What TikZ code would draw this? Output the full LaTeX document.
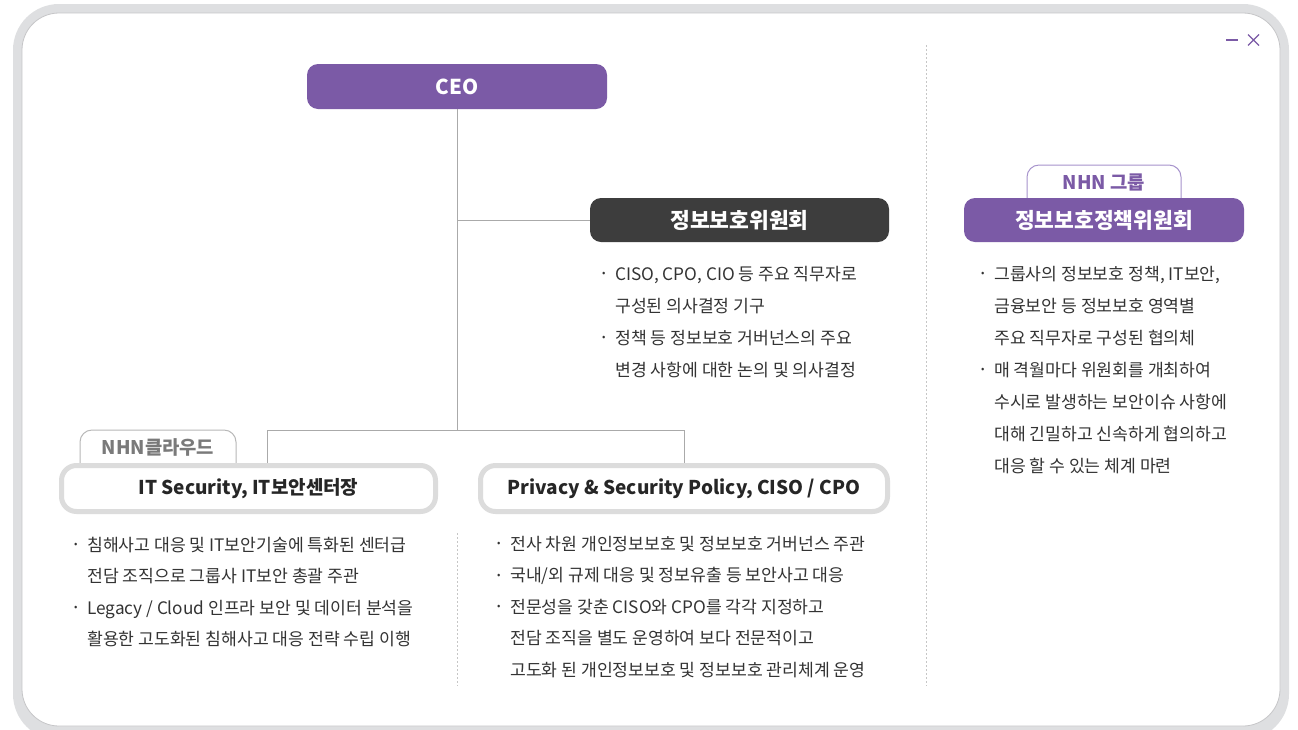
\documentclass[tikz,border=0pt]{standalone}
\usepackage{fontspec}
\setmainfont{Noto Sans CJK KR}
\definecolor{nhnpurple}{HTML}{7B5AA6}
\definecolor{darkbox}{HTML}{3D3D3D}
\definecolor{linegray}{HTML}{AAAAAA}
\definecolor{boxborder}{HTML}{DCDCDC}
\definecolor{framegray}{HTML}{DEDFE1}
\definecolor{frameedge}{HTML}{C6C6C8}
\definecolor{tabgray}{HTML}{B8B8B8}
\definecolor{tabtext}{HTML}{7A7A7A}
\definecolor{tabpurple}{HTML}{A793CC}
\definecolor{bodytext}{HTML}{333333}
\newcommand{\bi}{\makebox[14pt][l]{\hspace*{1pt}\raisebox{3.5pt}{\fontsize{10}{10}\selectfont •}}}
\newcommand{\bc}{\hspace*{14pt}}
\tikzset{
  fillbox/.style={rounded corners=11pt, inner sep=0pt, text=white,
    font=\fontsize{21.5}{24}\selectfont\bfseries},
  outlinebox/.style={draw=boxborder, line width=5pt, fill=white, rounded corners=15pt,
    inner sep=0pt, text=black!85, font=\fontsize{19}{22}\selectfont\bfseries},
  bullets/.style={anchor=base west, align=left, inner sep=0pt, text=bodytext,
    font=\fontsize{17.2}{32}\selectfont},
  tablabel/.style={inner sep=0pt, font=\fontsize{18.8}{20}\selectfont\bfseries},
  conn/.style={draw=linegray, line width=1pt},
  sep/.style={draw=tabgray!80, line width=1pt, dash pattern=on 2pt off 2pt},
}
\begin{document}
\begin{tikzpicture}[x=1pt,y=-1pt]
\useasboundingbox (0,0) rectangle (1298,729);
% frame
\fill[framegray, rounded corners=46pt] (13,4) rectangle (1289,740);
\draw[frameedge, fill=white, line width=0.8pt, rounded corners=37pt] (22,13) rectangle (1280,726);
% window icons
\draw[nhnpurple, line width=1.2pt] (1226,40) -- (1238,40);
\draw[nhnpurple, line width=1.2pt] (1248,34.5) -- (1259,45.5) (1259,34.5) -- (1248,45.5);
% separators
\coordinate (s1a) at (457,533); \coordinate (s1b) at (457,686);
\coordinate (s2a) at (926,45); \coordinate (s2b) at (926,686);
\draw[sep] (s1a) -- (s1b);
\draw[sep] (s2a) -- (s2b);
% nodes
\node[fillbox, fill=nhnpurple, minimum width=300pt, minimum height=45pt, font=\fontsize{20.5}{24}\selectfont\bfseries] (ceo) at (457,86.5) {CEO};
\node[fillbox, fill=darkbox, minimum width=299pt, minimum height=44pt] (com) at (739.5,220) {정보보호위원회};
% tabs
\draw[tabgray, line width=1pt, fill=white, rounded corners=12pt] (80,465) -- (80,430) -- (236,430) -- (236,465);
\node[tablabel, text=tabtext] (cloudtab) at (158,447.5) {NHN클라우드};
\draw[tabpurple, line width=1pt, fill=white, rounded corners=12pt] (1027,200) -- (1027,165) -- (1181,165) -- (1181,200);
\node[tablabel, text=nhnpurple] (grouptab) at (1104,182) {NHN 그룹};
\node[fillbox, fill=nhnpurple, minimum width=280pt, minimum height=44pt] (gcom) at (1104,220) {정보보호정책위원회};
\node[outlinebox, minimum width=374pt, minimum height=46pt] (itsec) at (248.5,488.5) {IT Security, IT보안센터장};
\node[outlinebox, minimum width=407pt, minimum height=46pt] (priv) at (684,488.5) {Privacy \& Security Policy, CISO / CPO};
% connectors
\coordinate (jbot) at (457,430);
\coordinate (lt) at (267,430);
\coordinate (rt) at (684,430);
\draw[conn] (ceo.south) -- (jbot);
\draw[conn] (ceo.south |- com.west) -- (com.west);
\draw[conn] (lt |- itsec.north) -- (lt) -- (rt) -- (rt |- priv.north);
% bullet texts (anchored at last line baseline)
\node[bullets] (tcom) at (601,376) {\bi CISO, CPO, CIO 등 주요 직무자로\\
\bc 구성된 의사결정 기구\\
\bi 정책 등 정보보호 거버넌스의 주요\\
\bc 변경 사항에 대한 논의 및 의사결정};
\node[bullets] (tgrp) at (980,472) {\bi 그룹사의 정보보호 정책, IT보안,\\
\bc 금융보안 등 정보보호 영역별\\
\bc 주요 직무자로 구성된 협의체\\
\bi 매 격월마다 위원회를 개최하여\\
\bc 수시로 발생하는 보안이슈 사항에\\
\bc 대해 긴밀하고 신속하게 협의하고\\
\bc 대응 할 수 있는 체계 마련};
\node[bullets, font=\fontsize{17.2}{31.5}\selectfont] (tit) at (73,645.5) {\bi 침해사고 대응 및 IT보안기술에 특화된 센터급\\
\bc 전담 조직으로 그룹사 IT보안 총괄 주관\\
\bi Legacy / Cloud 인프라 보안 및 데이터 분석을\\
\bc 활용한 고도화된 침해사고 대응 전략 수립 이행};
\node[bullets, font=\fontsize{17.2}{31.5}\selectfont] (tpriv) at (496,676) {\bi 전사 차원 개인정보보호 및 정보보호 거버넌스 주관\\
\bi 국내/외 규제 대응 및 정보유출 등 보안사고 대응\\
\bi 전문성을 갖춘 CISO와 CPO를 각각 지정하고\\
\bc 전담 조직을 별도 운영하여 보다 전문적이고\\
\bc 고도화 된 개인정보보호 및 정보보호 관리체계 운영};
\end{tikzpicture}
\end{document}
